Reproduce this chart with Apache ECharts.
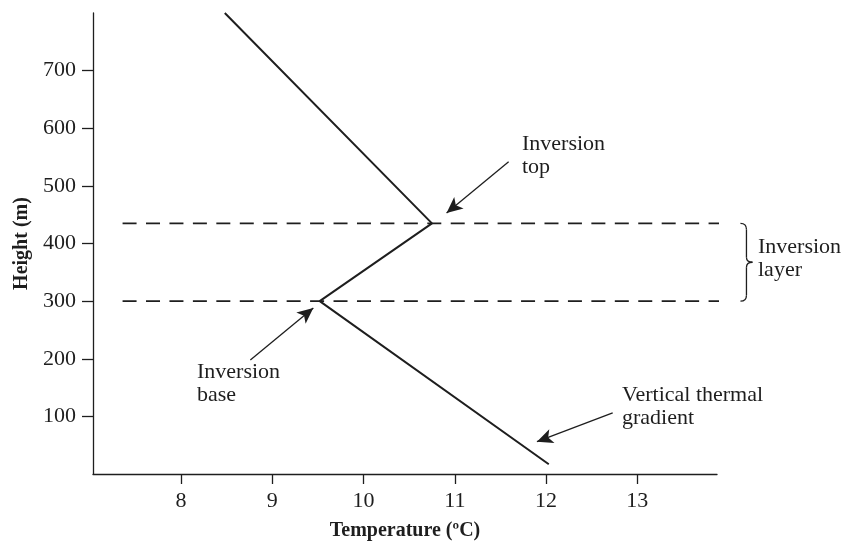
<!DOCTYPE html>
<html>
<head>
<meta charset="utf-8">
<script src="https://cdn.jsdelivr.net/npm/echarts@6/dist/echarts.min.js"></script>
<style>
  html, body { margin: 0; padding: 0; background: #fff; }
  #chart { width: 846px; height: 541px; }
</style>
</head>
<body>
<div id="chart"></div>
<script>
// Temperature profile with an inversion layer
const temperature = [8.48, 10.75, 9.52, 12.03];
const height = [800, 435, 300, 17];

// Heights of the inversion boundaries
const inversionTop = 435;
const inversionBase = 300;
const layerSpan = [7.36, 13.94];

// Tick labels
const xTicks = [8, 9, 10, 11, 12, 13];
const yTicks = [100, 200, 300, 400, 500, 600, 700];

// Annotation arrows: [tail, head] in data units
const arrowTop = [[11.59, 542], [10.91, 453]];
const arrowBase = [[8.76, 198], [9.45, 288]];
const arrowGradient = [[12.73, 106], [11.90, 56]];

const INK = '#1e1e1e';
const FONT = '"Liberation Serif", "DejaVu Serif", serif';

const chart = echarts.init(document.getElementById('chart'), null, { renderer: 'canvas' });

const profile = temperature.map((t, i) => [t, height[i]]);
const dashed = (h) => layerSpan.map(x => [x, h]);

function arrowLine(pair) {
  return [{ coord: pair[0] }, { coord: pair[1] }];
}

const option = {
  animation: false,
  backgroundColor: '#fff',
  grid: { left: 93, right: 129, top: 13, bottom: 67, containLabel: false, outerBoundsMode: 'none' },
  xAxis: {
    type: 'value', min: 7.036, max: 13.873,
    name: 'Temperature (ºC)', nameLocation: 'middle', nameGap: 47,
    nameTextStyle: { fontFamily: FONT, fontSize: 20, fontWeight: 'bold', color: INK },
    axisLine: { show: true, onZero: false, lineStyle: { color: INK, width: 1.3 } },
    axisTick: { show: true, length: 10, customValues: xTicks, lineStyle: { color: INK, width: 1.3 } },
    axisLabel: { customValues: xTicks, margin: 16, fontFamily: FONT, fontSize: 22, color: INK },
    splitLine: { show: false }
  },
  yAxis: {
    type: 'value', min: 0, max: 800,
    name: 'Height (m)', nameLocation: 'middle', nameGap: 60,
    nameTextStyle: { fontFamily: FONT, fontSize: 20, fontWeight: 'bold', color: INK },
    axisLine: { show: true, onZero: false, lineStyle: { color: INK, width: 1.3 } },
    axisTick: { show: true, length: 11, customValues: yTicks, lineStyle: { color: INK, width: 1.3 } },
    axisLabel: { customValues: yTicks, margin: 17, fontFamily: FONT, fontSize: 22, color: INK },
    splitLine: { show: false }
  },
  series: [
    {
      name: 'inversion top', type: 'line', data: dashed(inversionTop), clip: false,
      symbol: 'none', silent: true,
      lineStyle: { color: INK, width: 1.8, type: [14, 9.44] }
    },
    {
      name: 'inversion base', type: 'line', data: dashed(inversionBase), clip: false,
      symbol: 'none', silent: true,
      lineStyle: { color: INK, width: 1.8, type: [14, 9.44] }
    },
    {
      name: 'profile', type: 'line', data: profile, clip: false,
      symbol: 'none', silent: true,
      lineStyle: { color: INK, width: 2 },
      markLine: {
        silent: true, animation: false,
        symbol: ['none', 'arrow'], symbolSize: [11, 16],
        label: { show: false },
        lineStyle: { color: INK, width: 1.3, type: 'solid' },
        itemStyle: { color: INK },
        data: [arrowLine(arrowTop), arrowLine(arrowBase), arrowLine(arrowGradient)]
      }
    }
  ]
};

chart.setOption(option);

// Brace marking the inversion layer, placed from data coordinates
const topPx = chart.convertToPixel({ gridIndex: 0 }, [14.13, inversionTop]);
const basePx = chart.convertToPixel({ gridIndex: 0 }, [14.13, inversionBase]);
const bx = topPx[0];
const y0 = topPx[1], y1 = basePx[1], ym = (y0 + y1) / 2;
const spine = bx + 6, tip = bx + 12;
const braceStyle = { fill: null, stroke: INK, lineWidth: 1.3 };

const curve = (x1, y1_, cx, cy, x2, y2) => ({
  type: 'bezierCurve', silent: true,
  shape: { x1: x1, y1: y1_, cpx1: cx, cpy1: cy, x2: x2, y2: y2 },
  style: braceStyle
});
const seg = (x1, y1_, x2, y2) => ({
  type: 'line', silent: true,
  shape: { x1: x1, y1: y1_, x2: x2, y2: y2 },
  style: braceStyle
});

const label = (txt, x, y) => ({
  type: 'text', silent: true,
  style: { text: txt, x: x, y: y, fill: INK, font: '22px ' + FONT, lineHeight: 23, verticalAlign: 'top', align: 'left' }
});

chart.setOption({
  graphic: [
    curve(bx, y0, spine, y0, spine, y0 + 6),
    seg(spine, y0 + 6, spine, ym - 5),
    curve(spine, ym - 5, spine, ym, tip, ym),
    curve(tip, ym, spine, ym, spine, ym + 5),
    seg(spine, ym + 5, spine, y1 - 6),
    curve(spine, y1 - 6, spine, y1, bx, y1),
    label('Inversion\ntop', 522, 133),
    label('Inversion\nbase', 197, 361),
    label('Vertical thermal\ngradient', 622, 384),
    label('Inversion\nlayer', 758, 236)
  ]
});
</script>
</body>
</html>
